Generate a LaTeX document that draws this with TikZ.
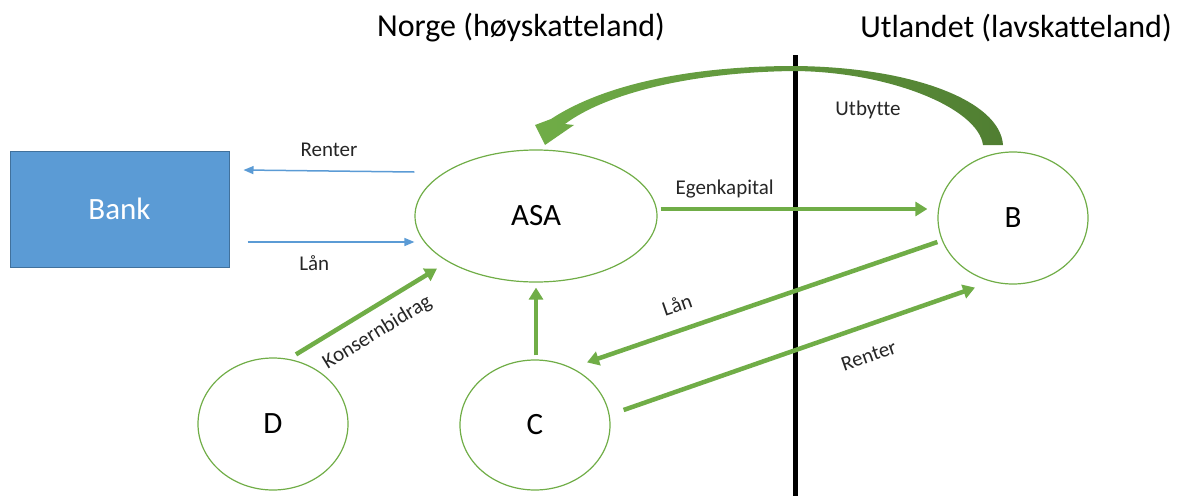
\documentclass[tikz,border=0pt]{standalone}
\usepackage{fontspec}
\setmainfont{Carlito}[Ligatures=NoCommon]
\usetikzlibrary{arrows.meta,shapes.geometric}

\definecolor{lgreen}{HTML}{70AD47}
\definecolor{dgreen}{HTML}{507E32}
\definecolor{lblue}{HTML}{5B9BD5}
\definecolor{dblue}{HTML}{41719C}

\tikzset{
  firma/.style={ellipse, draw=lgreen, line width=1.2pt, inner sep=0pt,
    font=\fontsize{31}{36}\selectfont},
  garrow/.style={draw=lgreen, line width=4.5pt, -{Triangle[length=12pt,width=14pt]}},
  barrow/.style={draw=lblue, line width=1.5pt, -{Triangle[length=10pt,width=8pt]}},
  lbl/.style={font=\fontsize{21}{25}\selectfont, text=black!85},
  land/.style={font=\fontsize{32}{38}\selectfont},
}

\begin{document}
\begin{tikzpicture}[x=1pt,y=-1pt]
  \useasboundingbox (0,0) rectangle (1192,496);

  % landene og grensen
  \node[land] (norge) at (521,28) {Norge (høyskatteland)};
  \node[land] (utland) at (1016,28) {Utlandet (lavskatteland)};
  \draw[line width=5pt] (795,55) -- (795,496);

  % selskapene
  \node[draw=dblue, fill=lblue, line width=1pt, minimum width=219pt, minimum height=116pt,
    text=white, font=\fontsize{31}{36}\selectfont] (bank) at (119.5,209) {Bank};
  \node[firma, minimum width=242pt, minimum height=132pt] (asa) at (536,216) {ASA};
  \node[firma, minimum width=150pt, minimum height=132pt] (b) at (1013,218) {B};
  \node[firma, minimum width=150pt, minimum height=130pt] (c) at (535,425) {C};
  \node[firma, minimum width=150pt, minimum height=132pt] (d) at (273,424) {D};

  % bank
  \draw[barrow] ([shift={(0,-44)}]asa.west) -- node[lbl, above=10pt] {Renter} ([shift={(14,-39)}]bank.east);
  \draw[barrow] ([shift={(18,33)}]bank.east) -- node[lbl, pos=0.4, below=10pt] {Lån} ([shift={(0,26)}]asa.west);

  % konsern
  \draw[garrow] ([shift={(3,-7)}]asa.east) -- node[lbl, pos=0.24, above=5pt] {Egenkapital} ([shift={(-10,-9)}]b.west);
  \draw[garrow] ([shift={(0,24)}]b.west) -- node[lbl, sloped, pos=0.72, above=12pt] {Lån} ([shift={(52,3)}]c.north);
  \draw[garrow] ([shift={(13,-15)}]c.east) -- node[lbl, sloped, pos=0.67, below=17pt] {Renter} ([shift={(-38,3)}]b.south);
  \draw[garrow] ([shift={(1,-4)}]c.north) -- ([shift={(0,5)}]asa.south);
  \draw[garrow] ([shift={(23,-3)}]d.north) -- node[lbl, sloped, pos=0.49, below=9pt] {Konsernbidrag} ([shift={(-99,-14)}]asa.south);

  % utbytte
  \path[left color=lgreen, right color=dgreen]
    (1003,145) .. controls (1000,100) and (910,67) .. (795,66)
    .. controls (680,66) and (598,88) .. (551,119)
    -- (535,125) -- (545,145) -- (574,125) -- (565,124)
    .. controls (605,94) and (690,72) .. (795,71)
    .. controls (890,72) and (978,108) .. (983,145) -- cycle;
  \node[lbl] (utbytte) at (868,110) {Utbytte};
\end{tikzpicture}
\end{document}
